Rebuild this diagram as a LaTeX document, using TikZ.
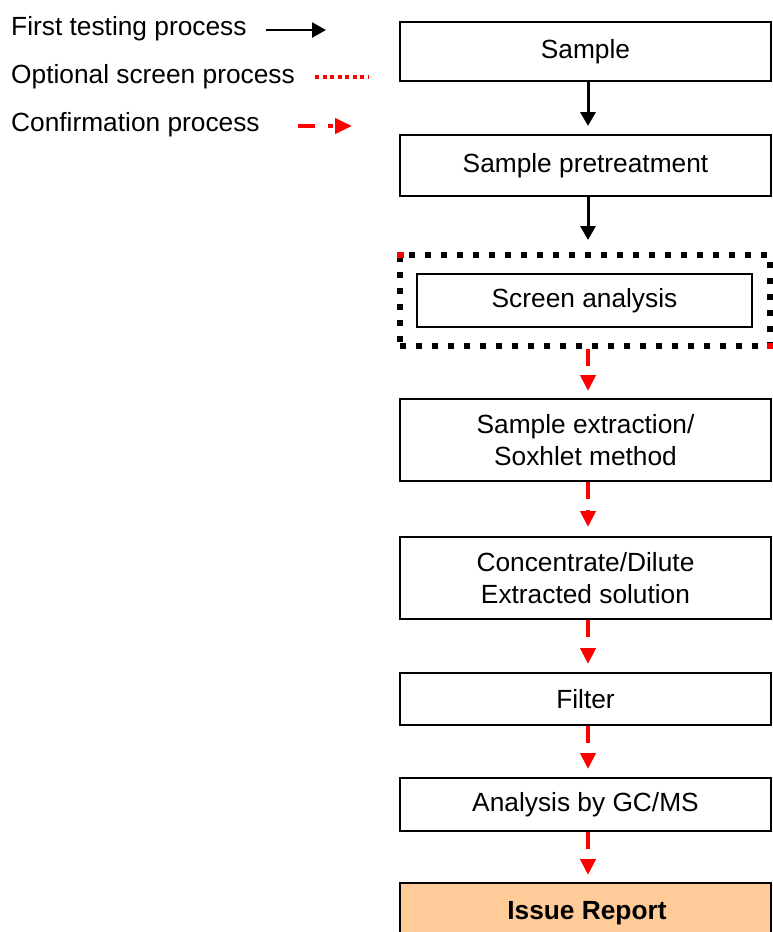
\documentclass[tikz,border=0pt]{standalone}
\usepackage{fontspec}
\setmainfont{Liberation Sans}
\usetikzlibrary{arrows.meta}
\begin{document}
\begin{tikzpicture}[x=1pt,y=-1pt,
  txt/.style={font=\fontsize{26.3}{31.5}\selectfont},
  box/.style={draw=black,line width=2pt,minimum width=371pt,inner sep=0pt,align=center,txt},
  lbl/.style={anchor=base west,inner sep=0pt,txt},
  blackarrow/.style={draw=black,line width=3pt,-{Triangle[length=14pt,width=15pt]}},
  redarrow/.style={draw=red,line width=4pt,dash pattern=on 17pt off 11pt on 3pt off 30pt,-{Triangle[length=16pt,width=15pt]}}
]
\useasboundingbox (0,0) rectangle (773,932);
\clip (0,0) rectangle (773,932);
% legend
\node[lbl] (l1) at (11,35) {First testing process};
\node[lbl] (l2) at (11,83) {Optional screen process};
\node[lbl] (l3) at (11,131) {Confirmation process};
\coordinate (a1s) at (266,30);
\coordinate (a1e) at (326,30);
\draw[blackarrow,line width=2.5pt] (a1s) -- (a1e);
\coordinate (a2s) at (315,77);
\coordinate (a2e) at (368,77);
\draw[red,line width=4pt,dash pattern=on 4pt off 3.5pt] (a2s) -- (a2e);
\coordinate (a3s) at (298,126);
\coordinate (a3e) at (352,126);
\draw[draw=red,line width=4pt,dash pattern=on 17pt off 13pt on 5pt off 20pt,-{Triangle[length=17pt,width=15pt]}] (a3s) -- (a3e);
% boxes
\node[box,minimum height=59pt] (sample) at (585.5,51.5) {Sample};
\node[box,minimum height=61pt] (pre) at (585.5,165.5) {Sample pretreatment};
\node[draw=black,line width=6pt,dash pattern=on 6pt off 10pt,minimum width=370pt,minimum height=91pt,inner sep=0pt] (outer) at (585,300.5) {};
\fill[red] (397,252) rectangle (404,258);
\fill[red] (767,343) rectangle (773,349);
\node[box,minimum width=335pt,minimum height=53pt] (screen) at (584.5,300.5) {Screen analysis};
\node[box,minimum height=82pt] (extr) at (585.5,440) {Sample extraction/\\ Soxhlet method};
\node[box,minimum height=82pt] (conc) at (585.5,578) {Concentrate/Dilute\\Extracted solution};
\node[box,minimum height=52pt] (filter) at (585.5,699) {Filter};
\node[box,minimum height=53pt] (ana) at (585.5,804.5) {Analysis by GC/MS};
\node[box,fill={rgb,255:red,255;green,204;blue,153},minimum height=66pt] (issue) at (585.5,916) {};
\node[inner sep=0pt,txt,font=\fontsize{26.3}{31.5}\selectfont\bfseries] (issuetxt) at (587,913) {Issue Report};
% arrows
\draw[blackarrow,shorten >=8pt] ([xshift=2.5pt]sample.south) -- ([xshift=2.5pt]pre.north);
\draw[blackarrow,shorten >=12pt] ([xshift=2.5pt]pre.south) -- ([xshift=3pt]outer.north);
\draw[redarrow,shorten >=7pt] ([xshift=3pt]outer.south) -- ([xshift=2.5pt]extr.north);
\draw[redarrow,shorten >=9pt] ([xshift=2.5pt]extr.south) -- ([xshift=2.5pt]conc.north);
\draw[redarrow,shorten >=8pt] ([xshift=2.5pt]conc.south) -- ([xshift=2.5pt]filter.north);
\draw[redarrow,shorten >=8pt] ([xshift=2.5pt]filter.south) -- ([xshift=2.5pt]ana.north);
\draw[redarrow,shorten >=7pt] ([xshift=2.5pt]ana.south) -- ([xshift=2.5pt]issue.north);
\end{tikzpicture}
\end{document}
